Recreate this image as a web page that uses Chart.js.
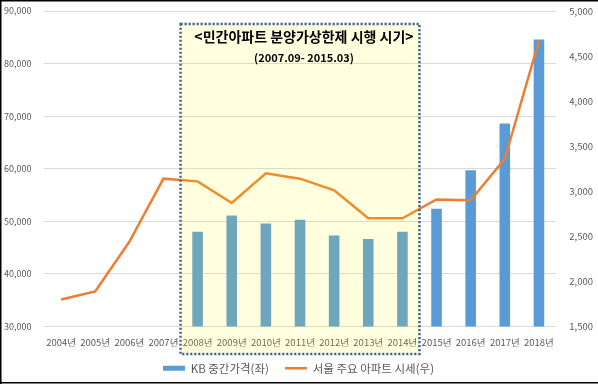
<!DOCTYPE html>
<html>
<head>
<meta charset="utf-8">
<script src="https://cdn.jsdelivr.net/npm/chart.js@4/dist/chart.umd.min.js"></script>
<style>
html,body{margin:0;padding:0;background:#fff;}
#wrap{position:relative;width:598px;height:386px;}
</style>
</head>
<body>
<div id="wrap"><canvas id="c" width="598" height="386"></canvas></div>
<script>
// ---- data ----
const years = ['2004년','2005년','2006년','2007년','2008년','2009년','2010년','2011년','2012년','2013년','2014년','2015년','2016년','2017년','2018년'];
const kbMedianPrice = [null, null, null, null, 48000, 51100, 49600, 50300, 47300, 46650, 48000, 52400, 59700, 68600, 84600];
const seoulAptPrice = [1800, 1890, 2440, 3140, 3110, 2870, 3200, 3140, 3010, 2700, 2700, 2910, 2900, 3360, 4670];
const seriesNames = ['KB 중간가격(좌)', '서울 주요 아파트 시세(우)'];
const leftAxisRange = [30000, 90000, 10000];
const rightAxisRange = [1500, 5000, 500];
const boxTitle = '<민간아파트 분양가상한제 시행 시기>';
const boxSubtitle = '(2007.09- 2015.03)';
const boxFirstYear = '2008년';
const boxLastYear = '2014년';

const FONT = "'Noto Sans CJK KR', 'Noto Sans', sans-serif";
const TICK_COLOR = '#595959';

const overlayPlugin = {
  id: 'overlay',
  afterDraw(chart) {
    const ctx = chart.ctx;
    const x = chart.scales.x;
    const i0 = years.indexOf(boxFirstYear), i1 = years.indexOf(boxLastYear);
    const half = (x.getPixelForTick(1) - x.getPixelForTick(0)) / 2;
    const left = x.getPixelForTick(i0) - half;
    const right = x.getPixelForTick(i1) + half;
    const top = 24, bottom = 354;
    ctx.save();
    ctx.fillStyle = 'rgba(255,255,0,0.12)';
    ctx.fillRect(left, top, right - left, bottom - top);
    ctx.strokeStyle = '#41678C';
    ctx.lineWidth = 2.5;
    ctx.setLineDash([2.2, 1.8]);
    ctx.strokeRect(left, top, right - left, bottom - top);
    ctx.setLineDash([]);
    ctx.fillStyle = '#000';
    ctx.textAlign = 'center';
    ctx.textBaseline = 'middle';
    const cx = (left + right) / 2 + 4;
    ctx.font = "bold 14px " + FONT;
    ctx.fillText(boxTitle, cx, 37);
    ctx.font = "bold 11px " + FONT;
    ctx.fillText(boxSubtitle, cx, 58);
    // outer frame
    ctx.fillStyle = '#000';
    ctx.fillRect(0, 0, 598, 1.5);
    ctx.fillRect(0, 0, 1.5, 384);
    ctx.fillRect(0, 382, 598, 1.5);
    ctx.restore();
  }
};

new Chart(document.getElementById('c'), {
  data: {
    labels: years,
    datasets: [
      {
        type: 'bar',
        label: seriesNames[0],
        data: kbMedianPrice,
        yAxisID: 'yL',
        backgroundColor: '#5B9BD5',
        borderWidth: 0,
        categoryPercentage: 1,
        barPercentage: 0.31,
        pointStyle: 'rect',
        order: 2
      },
      {
        type: 'line',
        label: seriesNames[1],
        data: seoulAptPrice,
        yAxisID: 'yR',
        borderColor: '#ED7D31',
        backgroundColor: '#ED7D31',
        borderWidth: 2.5,
        pointRadius: 0,
        pointHoverRadius: 0,
        pointBorderWidth: 2.5,
        pointStyle: 'line',
        tension: 0,
        order: 1
      }
    ]
  },
  options: {
    responsive: false,
    animation: false,
    events: [],
    layout: { padding: { top: 11, left: 4, right: 5, bottom: 2 } },
    plugins: {
      tooltip: { enabled: false },
      legend: {
        position: 'bottom',
        labels: {
          usePointStyle: true,
          pointStyleWidth: 22,
          boxHeight: 5,
          padding: 16,
          color: TICK_COLOR,
          font: { family: FONT, size: 11.5 },
          sort: (a, b) => a.datasetIndex - b.datasetIndex
        }
      }
    },
    scales: {
      x: {
        grid: { display: false, drawTicks: false },
        border: { display: false },
        ticks: {
          autoSkip: false, maxRotation: 0, minRotation: 0,
          padding: 10,
          color: TICK_COLOR,
          font: { family: FONT, size: 9.5 }
        },
        afterFit(s) { s.height = 20; }
      },
      yL: {
        position: 'left',
        min: leftAxisRange[0], max: leftAxisRange[1],
        grid: { color: '#D9D9D9', lineWidth: 1, drawTicks: false },
        border: { display: false },
        ticks: {
          stepSize: leftAxisRange[2],
          padding: 0,
          crossAlign: 'far',
          color: TICK_COLOR,
          font: { family: FONT, size: 9 },
          callback: v => v.toLocaleString('en-US')
        },
        afterFit(s) { s.width = 40; }
      },
      yR: {
        position: 'right',
        min: rightAxisRange[0], max: rightAxisRange[1],
        grid: { drawOnChartArea: false, drawTicks: false },
        border: { display: false },
        ticks: {
          stepSize: rightAxisRange[2],
          padding: 0,
          crossAlign: 'far',
          color: TICK_COLOR,
          font: { family: FONT, size: 9.5 },
          callback: v => v.toLocaleString('en-US')
        },
        afterFit(s) { s.width = 37; }
      }
    }
  },
  plugins: [overlayPlugin]
});
</script>
</body>
</html>
